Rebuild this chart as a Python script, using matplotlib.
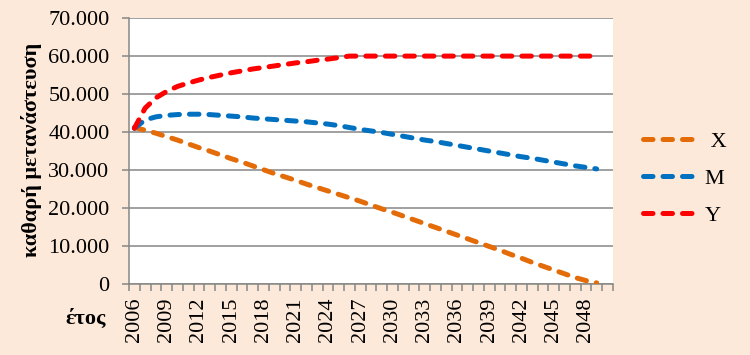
import matplotlib
matplotlib.use("Agg")
import matplotlib.pyplot as plt
import numpy as np
from matplotlib.ticker import FuncFormatter

# ---------------------------------------------------------------------------
# data
# ---------------------------------------------------------------------------
years = list(range(2006, 2050))

x_vals = [41200, 40500, 39700, 38800, 37900, 36900, 35900, 35000, 34000, 33000,
          32100, 31100, 30100, 29100, 28200, 27300, 26300, 25400, 24500, 23600,
          22700, 21800, 20800, 19800, 18900, 17900, 16900, 15900, 14900, 13900,
          12900, 11900, 10900, 9900, 8900, 7800, 6800, 5700, 4700, 3700,
          2700, 1700, 900, 300]

m_vals = [41000, 43200, 44000, 44400, 44600, 44700, 44700, 44600, 44400, 44200,
          44000, 43700, 43500, 43300, 43100, 42900, 42700, 42400, 42100, 41700,
          41200, 40700, 40300, 39900, 39400, 38900, 38400, 37900, 37500, 37000,
          36500, 36000, 35500, 35000, 34500, 34000, 33500, 33100, 32600, 32100,
          31600, 31100, 30700, 30300]

y_vals = [41000, 46300, 49000, 50700, 52000, 52900, 53700, 54400, 55000, 55600,
          56100, 56600, 57000, 57400, 57800, 58200, 58500, 58900, 59200, 59600,
          60000, 60000, 60000, 60000, 60000, 60000, 60000, 60000, 60000, 60000,
          60000, 60000, 60000, 60000, 60000, 60000, 60000, 60000, 60000, 60000,
          60000, 60000, 60000, 60000]

series_names = [" X", "M", "Y"]
series_colors = ["#E36C09", "#0070C0", "#FF0000"]

n_categories = 45  # category axis 2006..2050
tick_years = years[::3]

BG = "#FDE9D9"
GRID = "#868686"

plt.rcParams["font.family"] = ["Liberation Serif", "DejaVu Serif"]

fig = plt.figure(figsize=(7.5, 3.55), dpi=100, facecolor=BG)
ax = fig.add_axes([0.172, 0.2, 0.645, 0.749])
ax.set_facecolor("white")

pos = np.arange(len(years))
handles = []
for vals, name, col in zip([x_vals, m_vals, y_vals], series_names, series_colors):
    (ln,) = ax.plot(pos, vals, color=col, lw=3.6, dashes=(1.9, 2.0),
                    dash_capstyle="round", solid_capstyle="round",
                    label=name, zorder=3)
    handles.append(ln)

ax.set_xlim(-0.5, n_categories - 0.5)
ax.set_ylim(0, 70000)
ax.set_yticks(range(0, 70001, 10000))
ax.yaxis.set_major_formatter(
    FuncFormatter(lambda v, _: f"{int(v):,}".replace(",", "."))
)
ax.grid(axis="y", color=GRID, lw=1.1, zorder=1)
ax.set_axisbelow(True)

ax.set_xticks([years.index(y) for y in tick_years])
ax.set_xticklabels([str(y) for y in tick_years], rotation=90)
ax.set_xticks(np.arange(-0.5, n_categories, 1), minor=True)
ax.tick_params(axis="x", which="major", length=0, pad=10, labelsize=16)
ax.tick_params(axis="x", which="minor", length=5, width=1.1, color=GRID)
ax.tick_params(axis="y", length=5, width=1.1, color=GRID, pad=9, labelsize=16)

for s in ["top", "right"]:
    ax.spines[s].set_visible(False)
for s in ["left", "bottom"]:
    ax.spines[s].set_color(GRID)
    ax.spines[s].set_linewidth(1.1)

fig.text(0.042, 0.577, "καθαρή μετανάστευση", rotation=90, ha="center",
         va="center", fontsize=16, fontweight="bold")
fig.text(0.114, 0.102, "έτος", ha="center", va="center", fontsize=16,
         fontweight="bold")

fig.legend(handles=handles, loc="center left", bbox_to_anchor=(0.83, 0.497),
           frameon=False, fontsize=16, handlelength=2.5, handletextpad=0.3,
           labelspacing=0.75)

fig.savefig("out.png", dpi=100, facecolor=BG)
